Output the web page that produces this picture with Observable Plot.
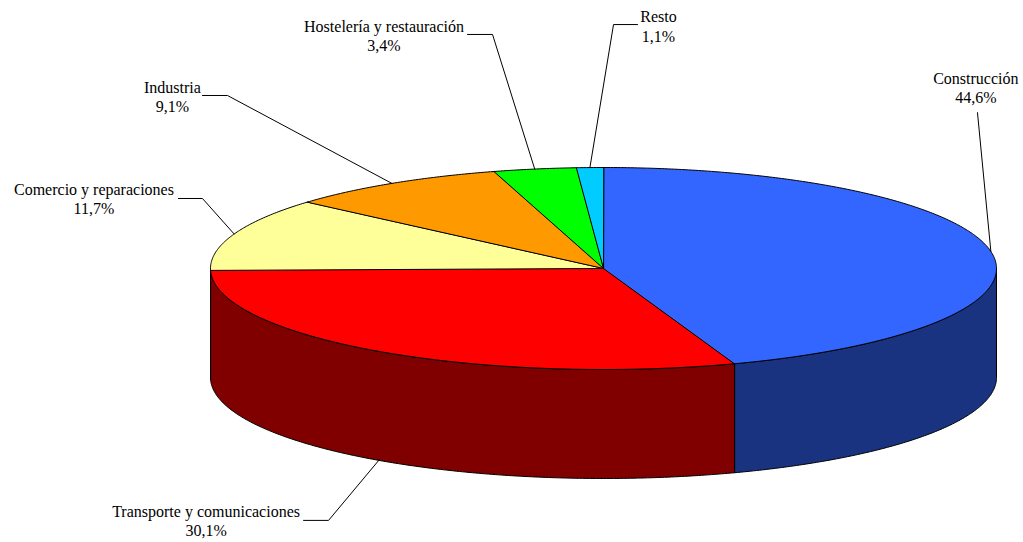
<!DOCTYPE html>
<html><head><meta charset="utf-8">
<script src="https://cdn.jsdelivr.net/npm/d3@7"></script>
<script src="https://cdn.jsdelivr.net/npm/@observablehq/plot@0.6"></script>
<style>html,body{margin:0;padding:0;background:#fff;} #chart svg{display:block;}</style>
</head><body><div id="chart"></div>
<script>
const categories = ["Construcción","Transporte y comunicaciones","Comercio y reparaciones","Industria","Hostelería y restauración","Resto"];
const values = [44.6, 30.1, 11.7, 9.1, 3.4, 1.1];
const pctLabels = ["44,6%","30,1%","11,7%","9,1%","3,4%","1,1%"];
const topColors = ["#3366FF","#FF0000","#FFFF99","#FF9900","#00FF00","#00CCFF"];
const sideColors = ["#1A3380","#800000","#80804D","#804D00","#008000","#006680"];
// label layout: pixel offsets from slice anchor (label centre/last baseline, leader elbow, horizontal run)
const labelLayout = [
  {dx: -15, dy: -148, ex: -13.4, ey: -139, h: 0},
  {dx: -173.5, dy: 77, ex: -51, ey: 61, h: -25},
  {dx: -140.2, dy: -19.5, ex: -31.7, ey: -35.5, h: -24},
  {dx: -219.4, dy: -71, ex: -164.4, ey: -87.9, h: -25},
  {dx: -150.7, dy: -117.6, ex: -42.2, ey: -134.6, h: -25},
  {dx: 68.6, dy: -126, ex: 23.6, ey: -143, h: 24}
];

const RX = 393, RY = 101, DEPTH = 109 / 101;
const total = d3.sum(values);
let acc = 0;
const slices = categories.map((c, i) => {
  const a0 = acc / total * 2 * Math.PI; acc += values[i];
  const a1 = acc / total * 2 * Math.PI;
  return {i, c, a0, a1, mid: (a0 + a1) / 2};
});
function arc(a0, a1, yOff) {
  const n = Math.max(2, Math.ceil((a1 - a0) / (Math.PI / 360)));
  return d3.range(n + 1).map(k => { const a = a0 + (a1 - a0) * k / n; return [Math.sin(a), Math.cos(a) + yOff]; });
}
const topPts = [];
slices.forEach(s => {
  [[0, 0], ...arc(s.a0, s.a1, 0)].forEach(([x, y]) => topPts.push({x, y, key: "t" + s.i, fill: topColors[s.i]}));
});
const sidePts = [];
slices.forEach(s => {
  const b0 = Math.max(s.a0, Math.PI / 2), b1 = Math.min(s.a1, 3 * Math.PI / 2);
  if (b1 <= b0) return;
  [...arc(b0, b1, 0), ...arc(b0, b1, -DEPTH).reverse()].forEach(([x, y]) => sidePts.push({x, y, key: "s" + s.i, fill: sideColors[s.i]}));
});
const leaderPts = [];
const labels = [];
slices.forEach(s => {
  const L = labelLayout[s.i];
  const ax = Math.sin(s.mid);
  const ay = Math.cos(s.mid) + (Math.cos(s.mid) < 0 ? -DEPTH * 0.99 : 0);
  const exx = ax + L.ex / RX, eyy = ay - L.ey / RY;
  [[exx + L.h / RX, eyy], [exx, eyy], [ax, ay]].forEach(([x, y]) => leaderPts.push({x, y, key: "l" + s.i}));
  labels.push({x: ax + L.dx / RX, y: ay - L.dy / RY, text: categories[s.i] + "\n" + pctLabels[s.i]});
});

const chart = Plot.plot({
  width: 1023, height: 542, margin: 0,
  x: {domain: [-1, 1], range: [210, 996], axis: null},
  y: {domain: [-1, 1], range: [369, 167], axis: null},
  color: {type: "identity"},
  style: {background: "#fff"},
  marks: [
    Plot.line(sidePts, {x: "x", y: "y", z: "key", fill: "fill", stroke: "black", strokeWidth: 1, curve: "linear-closed", strokeLinejoin: "round"}),
    Plot.line(topPts, {x: "x", y: "y", z: "key", fill: "fill", stroke: "black", strokeWidth: 1, curve: "linear-closed", strokeLinejoin: "round"}),
    Plot.line(leaderPts, {x: "x", y: "y", z: "key", stroke: "black", strokeWidth: 1}),
    Plot.text(labels, {x: "x", y: "y", text: "text", textAnchor: "middle", lineAnchor: "bottom", lineHeight: 1.2, fontSize: 16, fontFamily: "Liberation Serif, 'Times New Roman', serif", fill: "black"})
  ]
});
document.getElementById("chart").appendChild(chart);
</script>
</body></html>
